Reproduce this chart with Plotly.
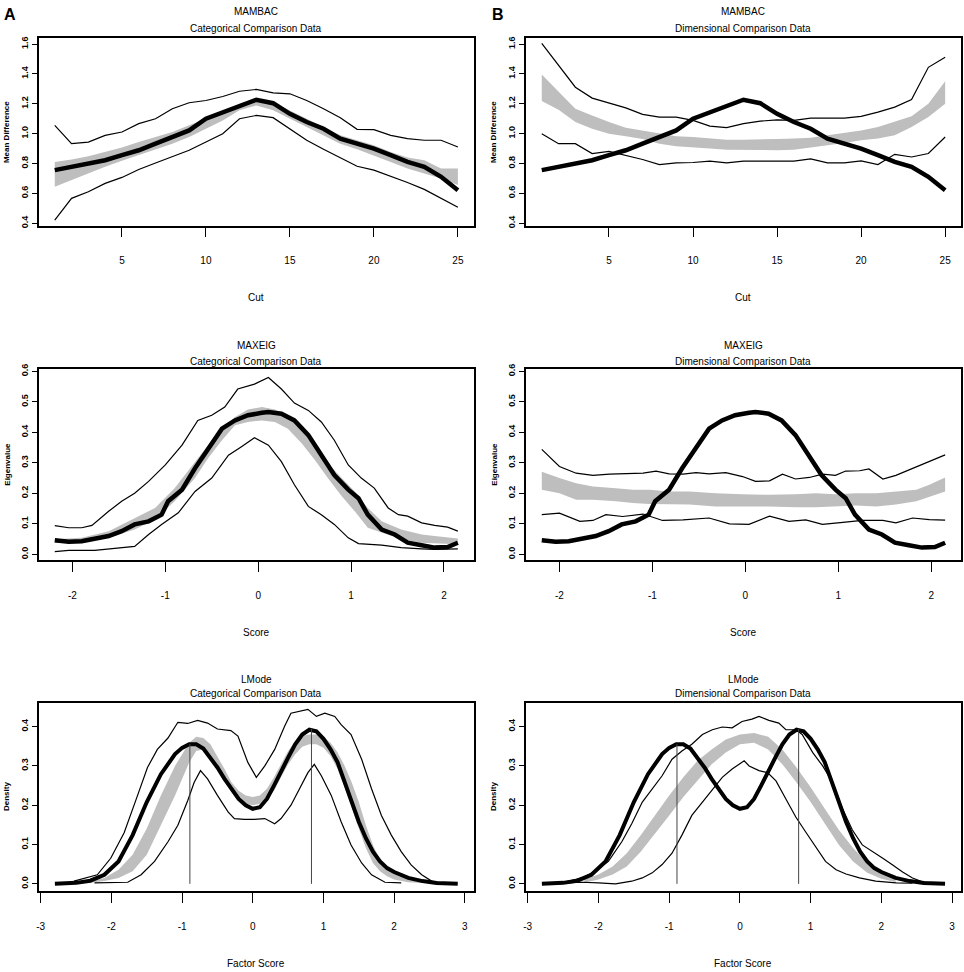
import plotly.graph_objects as go

# ---------------- DATA ----------------
# MAMBAC (top row)
cut = list(range(1, 26))
mambac_research = [0.756, 0.778, 0.800, 0.822, 0.856, 0.889, 0.933, 0.978, 1.022, 1.100, 1.144, 1.189, 1.227,
                   1.204, 1.133, 1.078, 1.033, 0.967, 0.933, 0.900, 0.856, 0.811, 0.778, 0.711, 0.622]
mambac_cat_upper = [1.056, 0.933, 0.944, 0.989, 1.011, 1.067, 1.100, 1.167, 1.207, 1.222, 1.249, 1.284, 1.296,
                    1.273, 1.267, 1.222, 1.167, 1.107, 1.029, 1.027, 0.989, 0.967, 0.956, 0.956, 0.911]
mambac_cat_lower = [0.422, 0.567, 0.611, 0.667, 0.707, 0.760, 0.804, 0.849, 0.889, 0.944, 1.000, 1.100, 1.122,
                    1.107, 1.033, 0.956, 0.896, 0.840, 0.782, 0.756, 0.716, 0.673, 0.627, 0.567, 0.507]
mambac_cat_band_hi = [0.811, 0.827, 0.849, 0.878, 0.907, 0.944, 0.978, 1.011, 1.056, 1.100, 1.144, 1.200, 1.233,
                      1.211, 1.156, 1.100, 1.044, 0.989, 0.956, 0.922, 0.878, 0.840, 0.822, 0.767, 0.767]
mambac_cat_band_lo = [0.644, 0.689, 0.733, 0.778, 0.818, 0.856, 0.896, 0.933, 0.978, 1.033, 1.089, 1.156, 1.189,
                      1.156, 1.100, 1.049, 0.989, 0.933, 0.896, 0.856, 0.811, 0.767, 0.733, 0.700, 0.656]
mambac_dim_upper = [1.604, 1.456, 1.311, 1.238, 1.204, 1.173, 1.129, 1.111, 1.111, 1.089, 1.051, 1.040, 1.067,
                    1.084, 1.093, 1.089, 1.104, 1.104, 1.104, 1.116, 1.144, 1.178, 1.229, 1.444, 1.511]
mambac_dim_lower = [1.000, 0.933, 0.933, 0.867, 0.882, 0.856, 0.827, 0.793, 0.804, 0.807, 0.816, 0.804, 0.816,
                    0.816, 0.816, 0.816, 0.831, 0.804, 0.804, 0.818, 0.793, 0.862, 0.844, 0.867, 0.978]
mambac_dim_band_hi = [1.396, 1.278, 1.167, 1.122, 1.078, 1.040, 1.022, 1.000, 0.982, 0.978, 0.971, 0.960, 0.960,
                      0.960, 0.964, 0.967, 0.973, 0.989, 1.004, 1.022, 1.044, 1.078, 1.116, 1.200, 1.351]
mambac_dim_band_lo = [1.218, 1.160, 1.078, 1.033, 1.000, 0.982, 0.964, 0.933, 0.916, 0.907, 0.900, 0.893, 0.889,
                      0.889, 0.889, 0.893, 0.907, 0.922, 0.938, 0.956, 0.967, 0.989, 1.044, 1.111, 1.200]

# MAXEIG (middle row)
maxeig_score = [-2.19, -2.04, -1.90, -1.76, -1.61, -1.47, -1.33, -1.18, -1.04, -0.97, -0.82, -0.68, -0.54, -0.39,
                -0.25, -0.11, 0.04, 0.11, 0.25, 0.39, 0.54, 0.68, 0.82, 0.97, 1.08, 1.18, 1.33, 1.47, 1.61,
                1.76, 1.90, 2.04, 2.15]
maxeig_research = [0.046, 0.041, 0.043, 0.052, 0.060, 0.076, 0.098, 0.108, 0.130, 0.174, 0.212, 0.282, 0.347,
                   0.412, 0.439, 0.456, 0.464, 0.467, 0.461, 0.439, 0.391, 0.325, 0.260, 0.212, 0.184, 0.130,
                   0.081, 0.065, 0.038, 0.030, 0.022, 0.024, 0.038]
maxeig_cat_upper_x = [-2.19, -2.04, -1.90, -1.79, -1.61, -1.47, -1.33, -1.18, -1.00, -0.82, -0.65, -0.50, -0.36,
                      -0.22, -0.04, 0.11, 0.25, 0.39, 0.54, 0.68, 0.82, 0.97, 1.11, 1.25, 1.40, 1.51, 1.61,
                      1.76, 1.90, 2.04, 2.15]
maxeig_cat_upper = [0.094, 0.087, 0.087, 0.095, 0.141, 0.174, 0.200, 0.239, 0.293, 0.358, 0.439, 0.456, 0.483,
                    0.542, 0.558, 0.580, 0.542, 0.496, 0.472, 0.434, 0.374, 0.293, 0.250, 0.217, 0.152, 0.130,
                    0.125, 0.103, 0.095, 0.089, 0.076]
maxeig_cat_lower_x = [-2.19, -2.04, -1.76, -1.51, -1.33, -1.18, -1.04, -0.86, -0.68, -0.50, -0.32, -0.18, -0.04,
                      0.11, 0.25, 0.39, 0.54, 0.68, 0.82, 0.97, 1.08, 1.33, 1.54, 1.76, 1.90, 2.15]
maxeig_cat_lower = [0.009, 0.013, 0.013, 0.022, 0.026, 0.065, 0.098, 0.136, 0.206, 0.250, 0.325, 0.353, 0.382,
                    0.358, 0.304, 0.228, 0.157, 0.130, 0.098, 0.054, 0.035, 0.030, 0.022, 0.018, 0.016, 0.018]
maxeig_cat_band_x = [-2.19, -1.90, -1.61, -1.33, -1.11, -0.90, -0.68, -0.54, -0.39, -0.25, -0.11, 0.04, 0.18,
                     0.32, 0.47, 0.61, 0.75, 0.90, 1.04, 1.18, 1.33, 1.54, 1.76, 1.90, 2.15]
maxeig_cat_band_hi = [0.049, 0.054, 0.076, 0.119, 0.152, 0.217, 0.304, 0.358, 0.412, 0.450, 0.475, 0.483, 0.475,
                      0.454, 0.412, 0.358, 0.298, 0.250, 0.206, 0.152, 0.108, 0.081, 0.065, 0.060, 0.052]
maxeig_cat_band_lo = [0.038, 0.038, 0.054, 0.081, 0.114, 0.174, 0.250, 0.315, 0.374, 0.423, 0.434, 0.439, 0.434,
                      0.412, 0.363, 0.309, 0.250, 0.190, 0.141, 0.087, 0.071, 0.049, 0.038, 0.035, 0.033]
maxeig_dim_upper_x = [-2.19, -2.00, -1.82, -1.64, -1.46, -1.28, -1.10, -0.96, -0.82, -0.67, -0.53, -0.39, -0.21,
                      -0.03, 0.11, 0.26, 0.40, 0.54, 0.69, 0.83, 0.97, 1.08, 1.23, 1.33, 1.48, 1.62, 1.80,
                      1.98, 2.15]
maxeig_dim_upper = [0.344, 0.288, 0.266, 0.259, 0.263, 0.264, 0.266, 0.273, 0.264, 0.263, 0.268, 0.264, 0.268,
                    0.255, 0.239, 0.241, 0.263, 0.247, 0.252, 0.263, 0.259, 0.273, 0.274, 0.280, 0.247, 0.259,
                    0.282, 0.306, 0.326]
maxeig_dim_lower_x = [-2.19, -2.00, -1.78, -1.64, -1.50, -1.32, -1.10, -0.89, -0.67, -0.39, -0.17, 0.04, 0.26,
                      0.47, 0.65, 0.83, 1.05, 1.26, 1.48, 1.62, 1.80, 1.98, 2.15]
maxeig_dim_lower = [0.130, 0.135, 0.108, 0.111, 0.130, 0.124, 0.132, 0.111, 0.113, 0.119, 0.100, 0.098, 0.125,
                    0.108, 0.113, 0.098, 0.105, 0.111, 0.111, 0.103, 0.119, 0.114, 0.112]
maxeig_dim_band_x = [-2.19, -2.00, -1.82, -1.64, -1.39, -1.21, -1.03, -0.82, -0.60, -0.32, -0.03, 0.26, 0.54,
                     0.76, 0.97, 1.19, 1.41, 1.62, 1.84, 1.98, 2.15]
maxeig_dim_band_hi = [0.271, 0.250, 0.233, 0.222, 0.217, 0.212, 0.212, 0.206, 0.206, 0.200, 0.197, 0.195, 0.197,
                      0.200, 0.197, 0.200, 0.200, 0.206, 0.212, 0.228, 0.252]
maxeig_dim_band_lo = [0.212, 0.200, 0.179, 0.179, 0.174, 0.168, 0.165, 0.163, 0.163, 0.157, 0.157, 0.157, 0.154,
                      0.154, 0.157, 0.160, 0.157, 0.163, 0.174, 0.187, 0.206]

# L-Mode (bottom row)
lmode_score = [-2.8, -2.5, -2.3, -2.1, -1.9, -1.7, -1.5, -1.3, -1.1, -1.0, -0.9, -0.8, -0.7, -0.6, -0.5, -0.4,
               -0.3, -0.2, -0.1, 0.0, 0.1, 0.2, 0.3, 0.4, 0.5, 0.6, 0.7, 0.8, 0.9, 1.0, 1.1, 1.2, 1.3, 1.4, 1.5,
               1.6, 1.7, 1.8, 1.9, 2.0, 2.2, 2.4, 2.6, 2.9]
lmode_research = [0.0, 0.0025, 0.008, 0.023, 0.057, 0.124, 0.208, 0.279, 0.330, 0.346, 0.355, 0.355, 0.344,
                  0.321, 0.296, 0.267, 0.242, 0.216, 0.200, 0.191, 0.195, 0.216, 0.250, 0.288, 0.321, 0.355,
                  0.380, 0.392, 0.388, 0.369, 0.342, 0.309, 0.258, 0.208, 0.158, 0.116, 0.082, 0.057, 0.040,
                  0.030, 0.015, 0.007, 0.002, 0.0]
lmode_modes = [-0.89, 0.83]
lmode_mode_density = [0.356, 0.394]
lmode_cat_upper_x = [-2.53, -2.20, -2.01, -1.82, -1.63, -1.49, -1.35, -1.20, -1.06, -0.92, -0.78, -0.64, -0.50,
                     -0.31, -0.21, -0.07, 0.05, 0.17, 0.31, 0.45, 0.54, 0.68, 0.78, 0.90, 1.02, 1.16, 1.25, 1.39,
                     1.54, 1.68, 1.82, 1.96, 2.10, 2.24, 2.39, 2.53, 2.67]
lmode_cat_upper = [0.007, 0.023, 0.065, 0.130, 0.225, 0.296, 0.342, 0.371, 0.411, 0.408, 0.416, 0.409, 0.394,
                   0.390, 0.376, 0.309, 0.271, 0.300, 0.342, 0.401, 0.434, 0.439, 0.444, 0.426, 0.434, 0.426,
                   0.405, 0.380, 0.317, 0.242, 0.174, 0.124, 0.082, 0.048, 0.023, 0.007, 0.002]
lmode_cat_lower_x = [-2.24, -1.77, -1.58, -1.39, -1.20, -1.06, -0.92, -0.83, -0.74, -0.64, -0.50, -0.35, -0.26,
                     -0.12, 0.02, 0.17, 0.31, 0.40, 0.54, 0.68, 0.78, 0.87, 0.97, 1.11, 1.25, 1.39, 1.54, 1.68,
                     1.87, 2.10]
lmode_cat_lower = [0.0025, 0.004, 0.023, 0.057, 0.107, 0.149, 0.212, 0.258, 0.288, 0.267, 0.225, 0.183, 0.166,
                   0.164, 0.164, 0.166, 0.153, 0.166, 0.200, 0.250, 0.283, 0.304, 0.275, 0.225, 0.158, 0.099,
                   0.053, 0.023, 0.004, 0.0025]
lmode_cat_band_x = [-2.3, -2.1, -1.9, -1.7, -1.5, -1.3, -1.1, -0.9, -0.8, -0.7, -0.6, -0.5, -0.4, -0.3, -0.2,
                    -0.1, 0.0, 0.1, 0.2, 0.3, 0.4, 0.5, 0.6, 0.7, 0.8, 0.9, 1.0, 1.1, 1.2, 1.3, 1.4, 1.5, 1.6,
                    1.7, 1.8, 1.9, 2.0, 2.2, 2.4]
lmode_cat_band_hi = [0.007, 0.015, 0.036, 0.074, 0.141, 0.225, 0.300, 0.359, 0.374, 0.371, 0.355, 0.325, 0.292,
                     0.258, 0.237, 0.225, 0.221, 0.225, 0.242, 0.271, 0.304, 0.338, 0.363, 0.377, 0.380, 0.380,
                     0.374, 0.359, 0.334, 0.300, 0.258, 0.208, 0.149, 0.099, 0.061, 0.040, 0.028, 0.011, 0.004]
lmode_cat_band_lo = [0.0025, 0.007, 0.015, 0.032, 0.074, 0.149, 0.225, 0.309, 0.338, 0.342, 0.325, 0.296, 0.262,
                     0.233, 0.215, 0.204, 0.200, 0.204, 0.216, 0.237, 0.271, 0.304, 0.330, 0.349, 0.355, 0.355,
                     0.346, 0.325, 0.292, 0.246, 0.195, 0.141, 0.091, 0.053, 0.032, 0.019, 0.011, 0.004, 0.002]
lmode_dim_upper_x = [-2.52, -2.23, -2.05, -1.86, -1.67, -1.53, -1.38, -1.24, -1.10, -0.96, -0.82, -0.68, -0.53,
                     -0.39, -0.25, -0.11, 0.03, 0.17, 0.27, 0.41, 0.55, 0.65, 0.79, 0.88, 1.03, 1.17, 1.31,
                     1.45, 1.59, 1.73, 1.88, 2.02, 2.16, 2.30, 2.44, 2.58, 2.73]
lmode_dim_upper = [0.0025, 0.015, 0.032, 0.057, 0.107, 0.153, 0.208, 0.242, 0.275, 0.317, 0.338, 0.355, 0.380,
                   0.392, 0.399, 0.397, 0.413, 0.419, 0.426, 0.416, 0.409, 0.392, 0.392, 0.380, 0.334, 0.300,
                   0.258, 0.191, 0.137, 0.099, 0.082, 0.065, 0.048, 0.030, 0.015, 0.005, 0.002]
lmode_dim_lower_x = [-2.52, -2.23, -2.00, -1.76, -1.53, -1.38, -1.24, -1.10, -0.96, -0.82, -0.68, -0.53, -0.39,
                     -0.25, -0.11, 0.06, 0.13, 0.27, 0.39, 0.51, 0.65, 0.79, 0.93, 1.07, 1.21, 1.36, 1.50, 1.69,
                     1.92, 2.21, 2.44]
lmode_dim_lower = [0.0025, 0.004, 0.0025, 0.0, 0.0067, 0.015, 0.028, 0.049, 0.078, 0.124, 0.174, 0.208, 0.242,
                   0.271, 0.292, 0.313, 0.300, 0.288, 0.283, 0.262, 0.216, 0.170, 0.132, 0.095, 0.057, 0.036,
                   0.025, 0.015, 0.0067, 0.0025, 0.002]
lmode_dim_band_x = [-2.2, -2.0, -1.8, -1.6, -1.4, -1.2, -1.0, -0.8, -0.6, -0.4, -0.2, 0.0, 0.2, 0.4, 0.6, 0.8,
                    1.0, 1.2, 1.4, 1.6, 1.8, 2.0, 2.2]
lmode_dim_band_hi = [0.011, 0.0235, 0.044, 0.078, 0.124, 0.174, 0.225, 0.271, 0.313, 0.342, 0.367, 0.380, 0.384,
                     0.374, 0.342, 0.296, 0.246, 0.191, 0.137, 0.091, 0.053, 0.028, 0.013]
lmode_dim_band_lo = [0.0025, 0.011, 0.0235, 0.044, 0.082, 0.128, 0.174, 0.221, 0.262, 0.304, 0.334, 0.355, 0.359,
                     0.342, 0.304, 0.258, 0.208, 0.153, 0.099, 0.057, 0.028, 0.013, 0.005]

# Tick values / labels
mambac_xticks = [5, 10, 15, 20, 25]
mambac_xlabels = ["5", "10", "15", "20", "25"]
mambac_yticks = [0.4, 0.6, 0.8, 1.0, 1.2, 1.4, 1.6]
mambac_ylabels = ["0.4", "0.6", "0.8", "1.0", "1.2", "1.4", "1.6"]
maxeig_xticks = [-2, -1, 0, 1, 2]
maxeig_xlabels = ["-2", "-1", "0", "1", "2"]
maxeig_yticks = [0.0, 0.1, 0.2, 0.3, 0.4, 0.5, 0.6]
maxeig_ylabels = ["0.0", "0.1", "0.2", "0.3", "0.4", "0.5", "0.6"]
lmode_xticks = [-3, -2, -1, 0, 1, 2, 3]
lmode_xlabels = ["-3", "-2", "-1", "0", "1", "2", "3"]
lmode_yticks = [0.0, 0.1, 0.2, 0.3, 0.4]
lmode_ylabels = ["0.0", "0.1", "0.2", "0.3", "0.4"]

# ---------------- FIGURE ----------------
W, H = 964, 972
GRAY = "#BEBEBE"
NARROW = "Liberation Sans Narrow, Arial Narrow, Liberation Sans, Arial, sans-serif"
WIDE = "Liberation Sans, Arial, sans-serif"

fig = go.Figure()

def px_x(p):
    return p / W

def px_y(p):
    return 1 - p / H

cols = {"L": (36.7, 473.0), "R": (524.7, 961.3)}
rows = {"top": (33.3, 222.3), "mid": (366.7, 559.0), "bot": (702.7, 892.5)}

def band(xs, hi, lo, ax):
    fig.add_trace(go.Scatter(x=list(xs) + list(xs)[::-1], y=list(hi) + list(lo)[::-1], fill="toself",
                             fillcolor=GRAY, mode="lines", line=dict(width=0, color=GRAY),
                             hoverinfo="skip", showlegend=False, xaxis="x" + ax, yaxis="y" + ax))

def line(xs, ys, ax, width=1.2, color="black"):
    fig.add_trace(go.Scatter(x=xs, y=ys, mode="lines", line=dict(width=width, color=color),
                             showlegend=False, xaxis="x" + ax, yaxis="y" + ax))

panels = [
    ("1", "L", "top"), ("2", "R", "top"),
    ("3", "L", "mid"), ("4", "R", "mid"),
    ("5", "L", "bot"), ("6", "R", "bot"),
]

# top row
band(cut, mambac_cat_band_hi, mambac_cat_band_lo, "1")
line(cut, mambac_cat_upper, "1")
line(cut, mambac_cat_lower, "1")
line(cut, mambac_research, "1", width=4.5)
band(cut, mambac_dim_band_hi, mambac_dim_band_lo, "2")
line(cut, mambac_dim_upper, "2")
line(cut, mambac_dim_lower, "2")
line(cut, mambac_research, "2", width=4.5)
# middle row
band(maxeig_cat_band_x, maxeig_cat_band_hi, maxeig_cat_band_lo, "3")
line(maxeig_cat_upper_x, maxeig_cat_upper, "3")
line(maxeig_cat_lower_x, maxeig_cat_lower, "3")
line(maxeig_score, maxeig_research, "3", width=4.5)
band(maxeig_dim_band_x, maxeig_dim_band_hi, maxeig_dim_band_lo, "4")
line(maxeig_dim_upper_x, maxeig_dim_upper, "4")
line(maxeig_dim_lower_x, maxeig_dim_lower, "4")
line(maxeig_score, maxeig_research, "4", width=4.5)
# bottom row
band(lmode_cat_band_x, lmode_cat_band_hi, lmode_cat_band_lo, "5")
line(lmode_cat_upper_x, lmode_cat_upper, "5")
line(lmode_cat_lower_x, lmode_cat_lower, "5")
line(lmode_score, lmode_research, "5", width=4.0)
band(lmode_dim_band_x, lmode_dim_band_hi, lmode_dim_band_lo, "6")
line(lmode_dim_upper_x, lmode_dim_upper, "6")
line(lmode_dim_lower_x, lmode_dim_lower, "6")
line(lmode_score, lmode_research, "6", width=4.0)
for ax in ("5", "6"):
    for m, d in zip(lmode_modes, lmode_mode_density):
        line([m, m], [0, d], ax, width=1.0, color="#444444")

row_cfg = {
    "top": dict(xr=[0.04, 25.96], yr=[0.384, 1.64], xt=mambac_xticks, xl=mambac_xlabels,
                yt=mambac_yticks, yl=mambac_ylabels, title="MAMBAC", xtitle="Cut",
                ytitle="Mean Difference", t1=7.0, t2=23.5, xty=295.0),
    "mid": dict(xr=[-2.364, 2.324], yr=[-0.0186, 0.6075], xt=maxeig_xticks, xl=maxeig_xlabels,
                yt=maxeig_yticks, yl=maxeig_ylabels, title="MAXEIG", xtitle="Score",
                ytitle="Eigenvalue", t1=342.7, t2=359.3, xty=631.7),
    "bot": dict(xr=[-3.03, 3.13], yr=[-0.0184, 0.461], xt=lmode_xticks, xl=lmode_xlabels,
                yt=lmode_yticks, yl=lmode_ylabels, title="LMode", xtitle="Factor Score",
                ytitle="Density", t1=679.3, t2=693.3, xty=965.0),
}
subtitles = {"L": "Categorical Comparison Data", "R": "Dimensional Comparison Data"}

layout = dict(width=W, height=H, margin=dict(l=0, r=0, t=0, b=0), paper_bgcolor="white",
              plot_bgcolor="white", showlegend=False)
annotations = []
for ax, c, r in panels:
    x0, x1 = cols[c]
    y0, y1 = rows[r]
    cfg = row_cfg[r]
    xkey = "xaxis" + ("" if ax == "1" else ax)
    ykey = "yaxis" + ("" if ax == "1" else ax)
    layout[xkey] = dict(domain=[px_x(x0), px_x(x1)], anchor="y" + ax, range=cfg["xr"],
                        showline=True, mirror=True, linecolor="black", linewidth=1.5,
                        ticks="outside", ticklen=10, tickwidth=1, tickcolor="black",
                        tickvals=cfg["xt"], ticktext=cfg["xl"], showgrid=False, zeroline=False,
                        tickfont=dict(family=NARROW, size=10, color="black"), ticklabelstandoff=15)
    layout[ykey] = dict(domain=[px_y(y1), px_y(y0)], anchor="x" + ax, range=cfg["yr"],
                        showline=True, mirror=True, linecolor="black", linewidth=1.5,
                        ticks="outside", ticklen=5, tickwidth=1, tickcolor="black",
                        tickvals=cfg["yt"], ticktext=cfg["yl"], showgrid=False, zeroline=False,
                        tickangle=-90,
                        tickfont=dict(family=WIDE, size=9, color="black", weight="bold"))
    cx = (x0 + x1) / 2
    annotations += [
        dict(text=cfg["title"], x=px_x(cx), y=px_y(cfg["t1"]), xref="paper", yref="paper",
             xanchor="center", yanchor="middle", showarrow=False,
             font=dict(family=NARROW, size=10, color="black")),
        dict(text=subtitles[c], x=px_x(cx), y=px_y(cfg["t2"]), xref="paper", yref="paper",
             xanchor="center", yanchor="middle", showarrow=False,
             font=dict(family=NARROW, size=10, color="black")),
        dict(text=cfg["xtitle"], x=px_x(cx), y=px_y(cfg["xty"]), xref="paper", yref="paper",
             xanchor="center", yanchor="middle", showarrow=False,
             font=dict(family=NARROW, size=10, color="black")),
        dict(text=cfg["ytitle"], x=px_x(x0 - 31.5), y=px_y((y0 + y1) / 2), xref="paper", yref="paper",
             xanchor="center", yanchor="middle", showarrow=False, textangle=-90,
             font=dict(family=WIDE, size=8, color="black", weight="bold")),
    ]

annotations += [
    dict(text="<b>A</b>", x=px_x(8), y=px_y(10), xref="paper", yref="paper", xanchor="center",
         yanchor="middle", showarrow=False, font=dict(family=WIDE, size=16, color="black")),
    dict(text="<b>B</b>", x=px_x(497), y=px_y(10), xref="paper", yref="paper", xanchor="center",
         yanchor="middle", showarrow=False, font=dict(family=WIDE, size=16, color="black")),
]
layout["annotations"] = annotations
fig.update_layout(**layout)

fig.write_html("out.html", config={"displayModeBar": False},
               post_script="document.body.style.margin='0';document.body.style.padding='0';"
                           "document.body.style.overflow='hidden';"
                           "document.documentElement.style.overflow='hidden';")
